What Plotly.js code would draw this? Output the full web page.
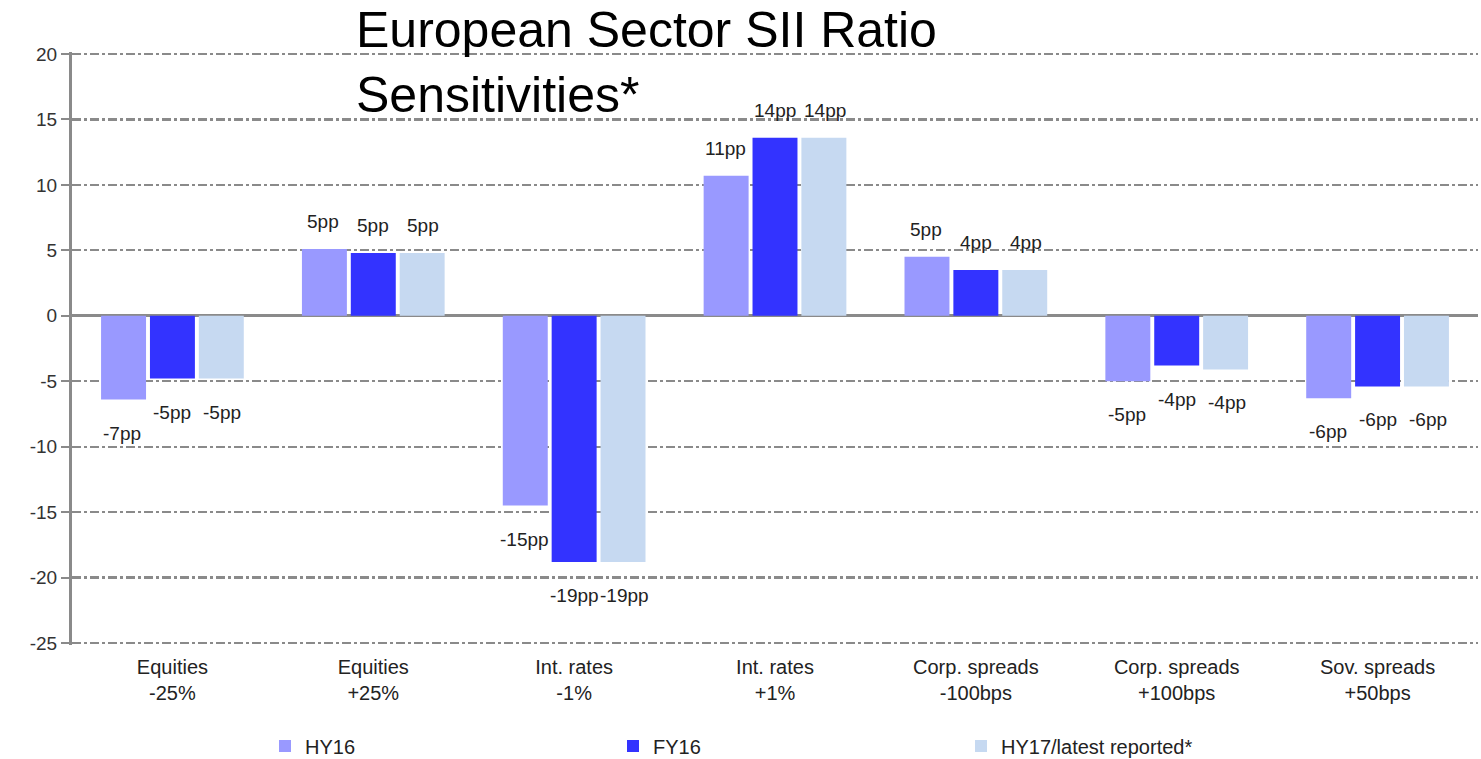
<!DOCTYPE html>
<html>
<head>
<meta charset="utf-8">
<script src="https://cdn.plot.ly/plotly-3.0.1.min.js"></script>
<style>html,body{margin:0;padding:0;background:#fff;}#chart{width:1481px;height:759px;}</style>
</head>
<body>
<div id="chart"></div>
<script>
const categories = ["Equities<br>-25%", "Equities<br>+25%", "Int. rates<br>-1%", "Int. rates<br>+1%", "Corp. spreads<br>-100bps", "Corp. spreads<br>+100bps", "Sov. spreads<br>+50bps"];
const seriesNames = ["HY16", "FY16", "HY17/latest reported*"];
const hy16 = [-6.4, 5.1, -14.5, 10.7, 4.5, -5.0, -6.3];
const fy16 = [-4.8, 4.8, -18.8, 13.6, 3.5, -3.8, -5.4];
const hy17 = [-4.8, 4.8, -18.8, 13.6, 3.5, -4.1, -5.4];
const hy16Labels = ["-7pp", "5pp", "-15pp", "11pp", "5pp", "-5pp", "-6pp"];
const fy16Labels = ["-5pp", "5pp", "-19pp", "14pp", "4pp", "-4pp", "-6pp"];
const hy17Labels = ["-5pp", "5pp", "-19pp", "14pp", "4pp", "-4pp", "-6pp"];
const yTicks = [20, 15, 10, 5, 0, -5, -10, -15, -20, -25];

const colors = ["#9999FF", "#3333FF", "#C6D9F1"];
const vals = [hy16, fy16, hy17];
const labs = [hy16Labels, fy16Labels, hy17Labels];
const groupShift = [-50, 0, 50];

const traces = vals.map((v, i) => ({
  type: "bar",
  name: seriesNames[i],
  x: categories,
  y: v,
  marker: {color: colors[i], line: {width: 0}},
  hoverinfo: "x+y"
}));

const annotations = [];
vals.forEach((v, i) => {
  v.forEach((val, j) => {
    annotations.push({
      x: categories[j], y: val, xref: "x", yref: "y",
      text: labs[i][j], showarrow: false,
      xanchor: "center",
      yanchor: val >= 0 ? "bottom" : "top",
      xshift: groupShift[i],
      yshift: val >= 0 ? 15 : -21,
      font: {family: "Liberation Sans, Arial, sans-serif", size: 19, color: "#222"}
    });
  });
});

annotations.push({
  xref: "paper", yref: "paper",
  x: (354 - 72) / 1406, y: 1 + 52 / 593,
  xanchor: "left", yanchor: "top", align: "left",
  text: "European Sector SII Ratio<br>Sensitivities*",
  showarrow: false,
  font: {family: "Liberation Sans, Arial, sans-serif", size: 50, color: "#000"}
});

const layout = {
  width: 1481, height: 759,
  paper_bgcolor: "#fff", plot_bgcolor: "#fff",
  margin: {l: 72, r: 3, t: 52, b: 114},
  barmode: "group",
  bargap: 0.27,
  bargroupgap: 0.08,
  font: {family: "Liberation Sans, Arial, sans-serif", color: "#222"},
  annotations: annotations,
  xaxis: {
    showgrid: false, showline: false, ticks: "",
    ticklabelstandoff: 8,
    tickfont: {family: "Liberation Sans, Arial, sans-serif", size: 20, color: "#222"},
    automargin: false
  },
  yaxis: {
    range: [-25.15, 20.15],
    tickvals: yTicks,
    ticktext: yTicks.map(String),
    showgrid: true, gridcolor: "#8a8a8a", gridwidth: 2.2, griddash: "dashdot",
    zeroline: true, zerolinecolor: "#8a8a8a", zerolinewidth: 3,
    showline: true, linecolor: "#8a8a8a", linewidth: 3,
    ticks: "outside", ticklen: 8, tickwidth: 2, tickcolor: "#8a8a8a",
    tickfont: {family: "Liberation Sans, Arial, sans-serif", size: 19, color: "#333"},
    automargin: false
  },
  legend: {
    orientation: "h", x: 265 / 1481, xanchor: "left", xref: "container",
    y: 13 / 759, yanchor: "middle", yref: "container",
    font: {family: "Liberation Sans, Arial, sans-serif", size: 20, color: "#222"},
    entrywidth: 303, itemwidth: 30, traceorder: "normal"
  },
  showlegend: true
};

Plotly.newPlot("chart", traces, layout, {displayModeBar: false, staticPlot: true});
</script>
</body>
</html>
